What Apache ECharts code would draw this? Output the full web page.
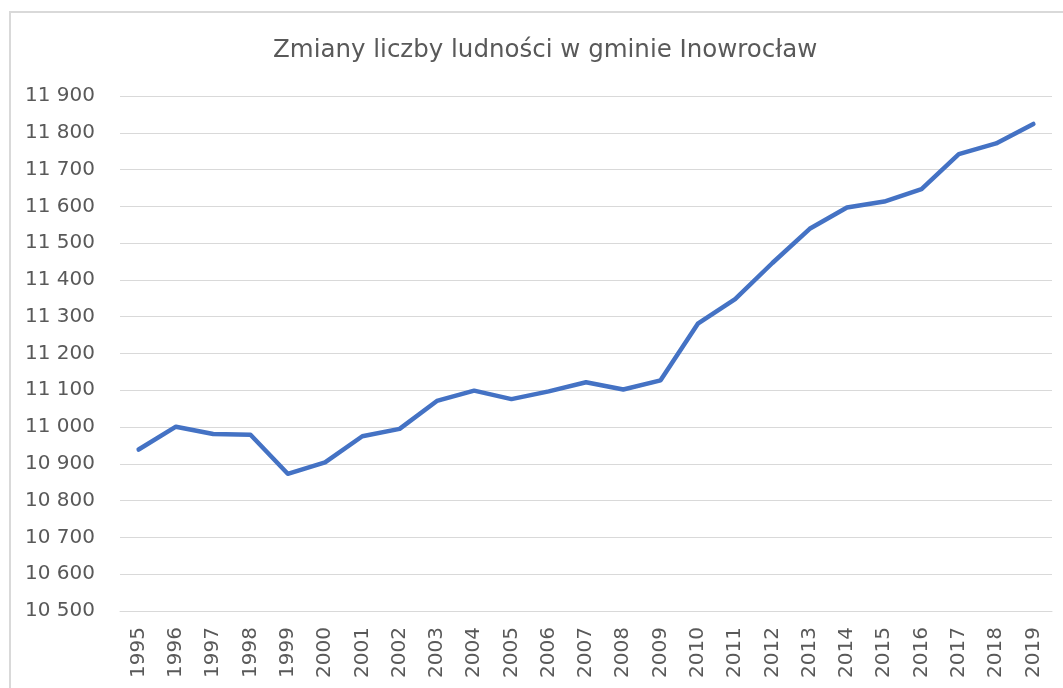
<!DOCTYPE html>
<html>
<head>
<meta charset="utf-8">
<script src="https://cdn.jsdelivr.net/npm/echarts@6/dist/echarts.min.js"></script>
<style>
  html, body { margin: 0; padding: 0; background: #fff; }
  #chart { width: 1063px; height: 688px; }
</style>
</head>
<body>
<div id="chart"></div>
<script>
const years = [
  '1995', '1996', '1997', '1998', '1999', '2000', '2001', '2002', '2003', '2004',
  '2005', '2006', '2007', '2008', '2009', '2010', '2011', '2012', '2013', '2014',
  '2015', '2016', '2017', '2018', '2019'
];
const population = [
  10939, 11001, 10981, 10979, 10873, 10904, 10975, 10995, 11071, 11099,
  11076, 11097, 11122, 11102, 11127, 11281, 11348, 11446, 11539, 11597,
  11613, 11647, 11742, 11771, 11824
];
const yMin = 10500;
const yMax = 11900;
const yStep = 100;

const myChart = echarts.init(document.getElementById('chart'));

const option = {
  backgroundColor: '#ffffff',
  animation: false,
  title: {
    text: 'Zmiany liczby ludności w gminie Inowrocław',
    left: 268,
    top: 33,
    textStyle: {
      fontFamily: 'DejaVu Sans',
      fontSize: 24.5,
      fontWeight: 'normal',
      color: '#595959'
    }
  },
  graphic: [
    {
      type: 'rect',
      silent: true,
      shape: { x: 10, y: 12, width: 1100, height: 800 },
      style: { fill: 'none', stroke: '#d9d9d9', lineWidth: 2 }
    }
  ],
  grid: {
    left: 120,
    right: 11,
    top: 96,
    bottom: 77
  },
  xAxis: {
    type: 'category',
    data: years,
    boundaryGap: true,
    axisLine: { show: true, lineStyle: { color: '#d9d9d9', width: 1 } },
    axisTick: { show: false },
    axisLabel: {
      rotate: 90,
      margin: 16,
      interval: 0,
      fontFamily: 'DejaVu Sans',
      fontSize: 20,
      color: '#595959'
    }
  },
  yAxis: {
    type: 'value',
    min: yMin,
    max: yMax,
    interval: yStep,
    axisLine: { show: false },
    axisTick: { show: false },
    splitLine: { lineStyle: { color: '#d9d9d9', width: 1 } },
    axisLabel: {
      margin: 25,
      fontFamily: 'DejaVu Sans',
      fontSize: 20,
      color: '#595959',
      formatter: function (v) {
        return String(v).replace(/\B(?=(\d{3})+(?!\d))/g, ' ');
      }
    }
  },
  series: [
    {
      name: 'Ludność',
      type: 'line',
      data: population,
      symbol: 'none',
      lineStyle: { color: '#4472c4', width: 4.5, cap: 'round', join: 'round' },
      itemStyle: { color: '#4472c4' }
    }
  ]
};

option && myChart.setOption(option);
</script>
</body>
</html>
